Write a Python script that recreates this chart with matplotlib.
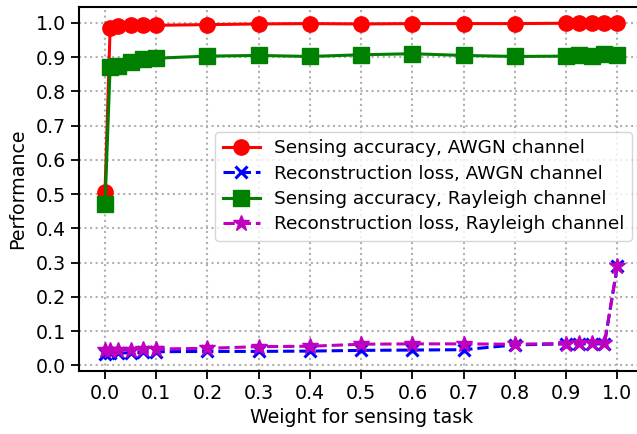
import matplotlib.pyplot as plt
import numpy as np

# sensing task weight
weights = [0.0, 0.01, 0.025, 0.05, 0.075, 0.1, 0.2, 0.3, 0.4, 0.5, 0.6, 0.7, 0.8,
           0.9, 0.925, 0.95, 0.975, 1.0]

acc_awgn = [0.505, 0.985, 0.990, 0.993, 0.993, 0.993, 0.995, 0.997, 0.998, 0.997,
            0.998, 0.998, 0.998, 0.999, 0.999, 0.999, 0.999, 0.999]
loss_awgn = [0.033, 0.035, 0.036, 0.037, 0.038, 0.040, 0.041, 0.041, 0.042, 0.044,
             0.045, 0.046, 0.060, 0.063, 0.063, 0.063, 0.063, 0.290]
acc_rayleigh = [0.470, 0.870, 0.875, 0.885, 0.895, 0.897, 0.903, 0.905, 0.902, 0.907,
                0.910, 0.905, 0.902, 0.903, 0.907, 0.903, 0.908, 0.905]
loss_rayleigh = [0.045, 0.045, 0.045, 0.046, 0.047, 0.048, 0.050, 0.055, 0.056, 0.062,
                 0.063, 0.063, 0.062, 0.064, 0.065, 0.065, 0.065, 0.290]

fs = 13.7
plt.rcParams['font.size'] = fs

fig = plt.figure(figsize=(6.37, 4.34), dpi=100)
ax = fig.add_axes([79.4 / 637, 63.3 / 434, 563.5 / 637, 364.0 / 434])

lw = 2.2
ax.plot(weights, acc_awgn, 'r-o', lw=lw, ms=11, label='Sensing accuracy, AWGN channel')
ax.plot(weights, loss_awgn, 'b--x', lw=lw, ms=9, mew=2.2, label='Reconstruction loss, AWGN channel')
ax.plot(weights, acc_rayleigh, 'g-s', lw=lw, ms=11, label='Sensing accuracy, Rayleigh channel')
ax.plot(weights, loss_rayleigh, 'm--*', lw=lw, ms=12, label='Reconstruction loss, Rayleigh channel')

ax.set_xticks(np.arange(0, 1.01, 0.1))
ax.set_yticks(np.arange(0, 1.01, 0.1))
ax.tick_params(labelsize=fs, width=1.3, length=6)
for s in ax.spines.values():
    s.set_linewidth(1.5)
ax.grid(True, linestyle=':', color='#b0b0b0', lw=1.5)
ax.set_xlabel('Weight for sensing task', fontsize=fs)
ax.set_ylabel('Performance', fontsize=fs, labelpad=6)

ax.legend(loc='upper right', bbox_to_anchor=(0.981, 0.656), borderaxespad=0,
          fontsize=13.3, handlelength=2.0, labelspacing=0.4)

plt.savefig('out.png', dpi=100)
